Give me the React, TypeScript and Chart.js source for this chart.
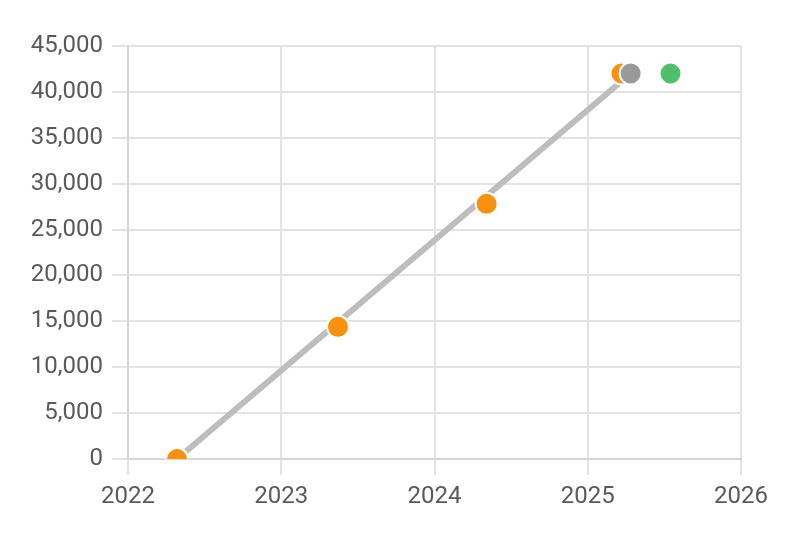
import React, { useEffect, useRef } from "react";
import { Chart, registerables } from "chart.js";

Chart.register(...registerables);

const trendX = [2022.32, 2025.28];
const trendY = [0, 42000];
const orangeX = [2022.32, 2023.37, 2024.34, 2025.22];
const orangeY = [0, 14400, 27800, 42000];
const grayX = [2025.28];
const grayY = [42000];
const greenX = [2025.54];
const greenY = [42000];
const xTicks = [2022, 2023, 2024, 2025, 2026];

const pts = (xs: number[], ys: number[]) => xs.map((x, i) => ({ x, y: ys[i] }));

export default function App() {
  const ref = useRef<HTMLCanvasElement>(null);
  useEffect(() => {
    if (!ref.current) return;
    const font = { family: "Roboto, sans-serif", size: 24 };
    const chart = new Chart(ref.current, {
      type: "scatter",
      data: {
        datasets: [
          {
            data: pts(trendX, trendY),
            showLine: true,
            borderColor: "#bdbdbd",
            borderWidth: 6,
            pointRadius: 0,
            order: 4,
          },
          {
            data: pts(orangeX, orangeY),
            backgroundColor: "#f7910f",
            borderColor: "#ffffff",
            borderWidth: 2,
            pointRadius: 11,
            order: 3,
          },
          {
            data: pts(grayX, grayY),
            backgroundColor: "#999999",
            borderColor: "#ffffff",
            borderWidth: 2,
            pointRadius: 11,
            order: 2,
          },
          {
            data: pts(greenX, greenY),
            backgroundColor: "#4fbf6b",
            borderColor: "#ffffff",
            borderWidth: 2,
            pointRadius: 11,
            order: 1,
          },
        ],
      },
      options: {
        animation: false,
        responsive: false,
        layout: { padding: { left: 0, top: 46, right: 59, bottom: 0 } },
        plugins: { legend: { display: false }, tooltip: { enabled: false } },
        scales: {
          x: {
            type: "linear",
            min: 2022,
            max: 2026,
            afterBuildTicks: (s: any) => {
              s.ticks = xTicks.map((v) => ({ value: v }));
            },
            afterFit: (s: any) => {
              s.height = 85;
            },
            ticks: {
              stepSize: 1,
              color: "#5a5a5a",
              font,
              padding: 8,
              callback: (v: any) => String(v),
            },
            grid: { color: "#e3e3e3", lineWidth: 2, tickLength: 16 },
            border: { color: "#d6d6d6", width: 2 },
          },
          y: {
            min: 0,
            max: 45000,
            afterFit: (s: any) => {
              s.width = 128;
            },
            ticks: {
              stepSize: 5000,
              color: "#5a5a5a",
              font,
              padding: 9,
            },
            grid: { color: "#e3e3e3", lineWidth: 2, tickLength: 16 },
            border: { color: "#d6d6d6", width: 2 },
          },
        },
      },
    });
    return () => chart.destroy();
  }, []);
  return (
    <div style={{ position: "absolute", left: 0, top: 0, width: 800, height: 544, background: "#fff" }}>
      <canvas ref={ref} width={800} height={544} />
    </div>
  );
}
